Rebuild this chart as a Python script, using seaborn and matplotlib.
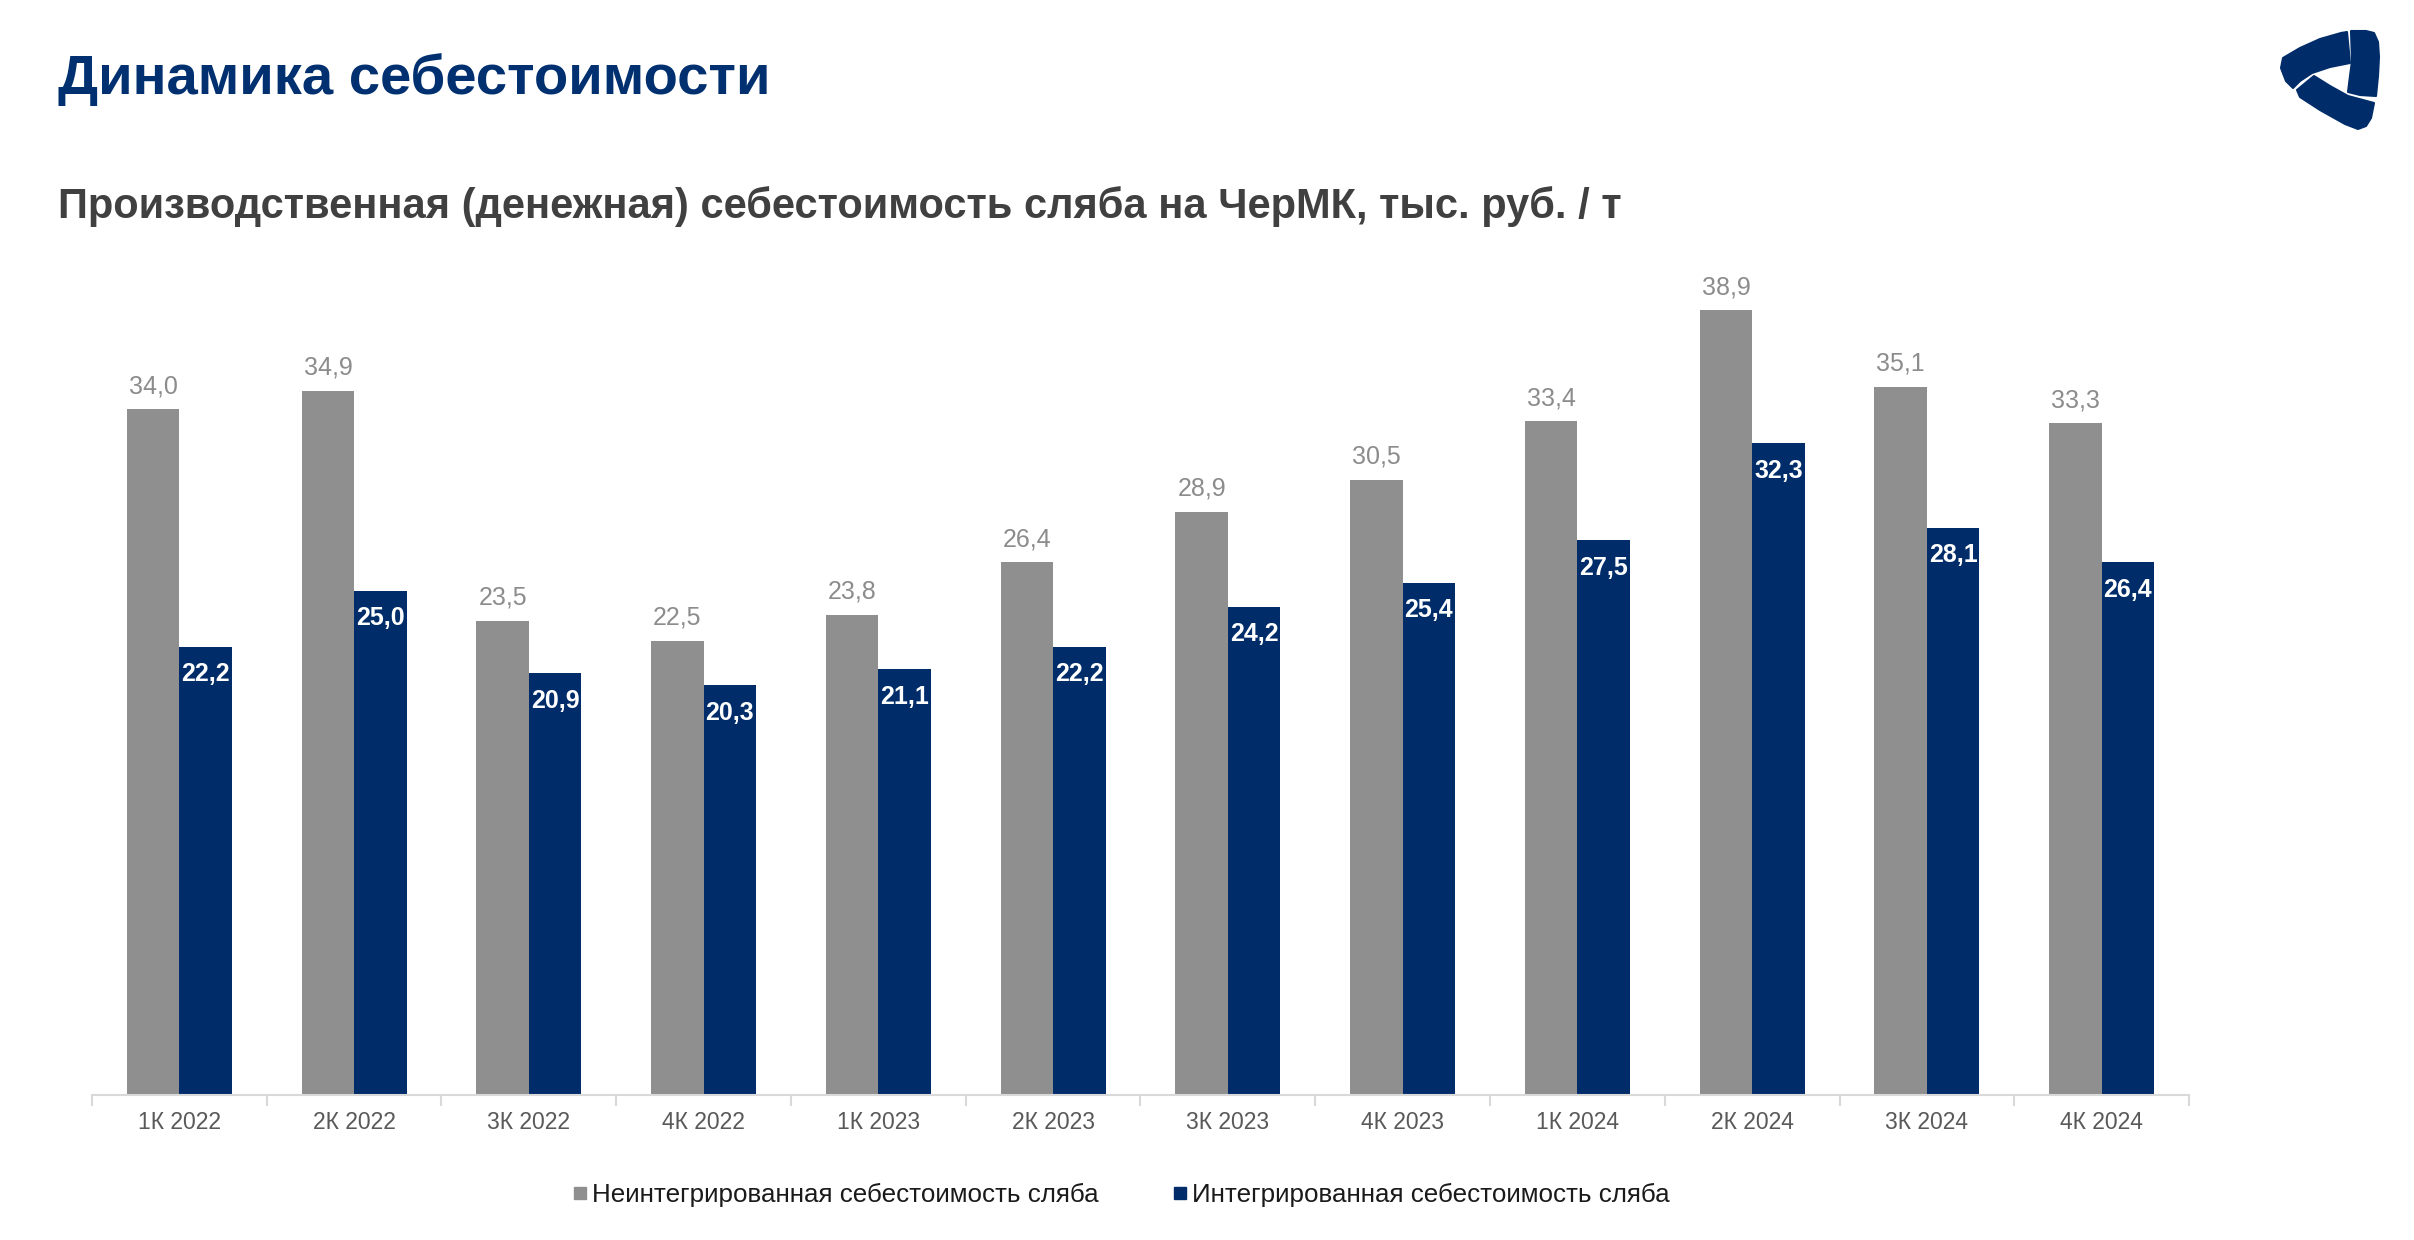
import pandas as pd
import numpy as np
from matplotlib import pyplot as plt
from matplotlib.patches import Polygon
from matplotlib.lines import Line2D
from matplotlib.ticker import FixedLocator
import seaborn as sns

# quarters and the two cost series (thousand rub per tonne)
quarters = ['1К 2022', '2К 2022', '3К 2022', '4К 2022',
            '1К 2023', '2К 2023', '3К 2023', '4К 2023',
            '1К 2024', '2К 2024', '3К 2024', '4К 2024']
non_integrated = [34.0, 34.9, 23.5, 22.5, 23.8, 26.4, 28.9, 30.5, 33.4, 38.9, 35.1, 33.3]
integrated = [22.2, 25.0, 20.9, 20.3, 21.1, 22.2, 24.2, 25.4, 27.5, 32.3, 28.1, 26.4]
series_names = ['Неинтегрированная себестоимость сляба', 'Интегрированная себестоимость сляба']

gray = '#8f8f8f'
navy = '#002d6a'

sns.set_theme(style='white')
plt.rcParams['font.family'] = ['Liberation Sans', 'DejaVu Sans']

# long format table for seaborn
df = pd.DataFrame({
    'Квартал': quarters * 2,
    'Значение': non_integrated + integrated,
    'Серия': [series_names[0]] * len(quarters) + [series_names[1]] * len(quarters),
})

fig = plt.figure(figsize=(24.14, 12.4), dpi=100)
ax = fig.add_axes([0.0381, 0.1173, 0.8687, 0.7315])

sns.barplot(data=df, x='Квартал', y='Значение', hue='Серия', order=quarters,
            hue_order=series_names, palette=[gray, navy], width=0.6,
            saturation=1, legend=False, linewidth=0, edgecolor='none', ax=ax)

ax.set_ylim(0, 45)
ax.set_xlim(-0.5, len(quarters) - 0.5)
ax.set_xlabel('')
ax.set_ylabel('')
ax.set_yticks([])
for s in ['top', 'right', 'left']:
    ax.spines[s].set_visible(False)
ax.spines['bottom'].set_color('#d9d9d9')
ax.spines['bottom'].set_linewidth(1.5)

# tick labels at centers, small ticks at category borders
ax.tick_params(axis='x', which='major', length=0, labelsize=16.5, colors='#595959', pad=12)
ax.xaxis.set_minor_locator(FixedLocator(np.arange(-0.5, len(quarters), 1.0)))
ax.tick_params(axis='x', which='minor', length=8, width=1.5, color='#d9d9d9', bottom=True)

# value labels
for bar in ax.containers[0]:
    h = bar.get_height()
    ax.annotate(f'{h:.1f}'.replace('.', ','), (bar.get_x() + bar.get_width() / 2, h),
                xytext=(0, 8), textcoords='offset points', ha='center', va='bottom',
                fontsize=18, color='#8c8c8c')
for bar in ax.containers[1]:
    h = bar.get_height()
    ax.annotate(f'{h:.1f}'.replace('.', ','), (bar.get_x() + bar.get_width() / 2, h),
                xytext=(0, -11), textcoords='offset points', ha='center', va='top',
                fontsize=18, fontweight='bold', color='white')

# legend below the chart
handles = [Line2D([], [], marker='s', linestyle='', markersize=9, color=c) for c in [gray, navy]]
fig.legend(handles, series_names, loc='center', bbox_to_anchor=(1120 / 2414, 1 - 1195 / 1240),
           ncol=2, frameon=False, fontsize=18.7, handletextpad=0.1, columnspacing=2.8,
           handlelength=0.7, labelcolor='#1a1a1a')

# titles
fig.text(58 / 2414, 1 - 80 / 1240, 'Динамика себестоимости', fontsize=40.5,
         fontweight='bold', color='#003070', va='center', ha='left')
fig.text(58 / 2414, 1 - 207 / 1240,
         'Производственная (денежная) себестоимость сляба на ЧерМК, тыс. руб. / т',
         fontsize=30, fontweight='bold', color='#404040', va='center', ha='left')

# logo in top right corner, drawn in pixel coords
lx0, lx1, ly0, ly1 = 2270, 2395, 15, 140
ax_logo = fig.add_axes([lx0 / 2414, 1 - ly1 / 1240, (lx1 - lx0) / 2414, (ly1 - ly0) / 1240])
ax_logo.set_xlim(lx0, lx1)
ax_logo.set_ylim(ly1, ly0)
ax_logo.axis('off')
logo_parts = [
    [(2283, 58), (2300, 48), (2320, 39), (2341, 33), (2347, 32), (2350, 63), (2330, 67),
     (2312, 73), (2300, 81), (2293, 88), (2286, 81), (2281, 68)],
    [(2351, 31), (2366, 31), (2374, 33), (2378, 42), (2379, 57), (2378, 76), (2376, 96),
     (2360, 95), (2348, 92), (2350, 76), (2352, 61)],
    [(2297, 90), (2314, 76), (2330, 86), (2348, 96), (2374, 103), (2371, 118), (2366, 126),
     (2358, 129), (2345, 124), (2320, 110), (2300, 97)],
]
for pts in logo_parts:
    ax_logo.add_patch(Polygon(pts, closed=True, facecolor=navy, edgecolor=navy,
                              joinstyle='round', linewidth=1.5))

fig.savefig('out.png', dpi=100)
